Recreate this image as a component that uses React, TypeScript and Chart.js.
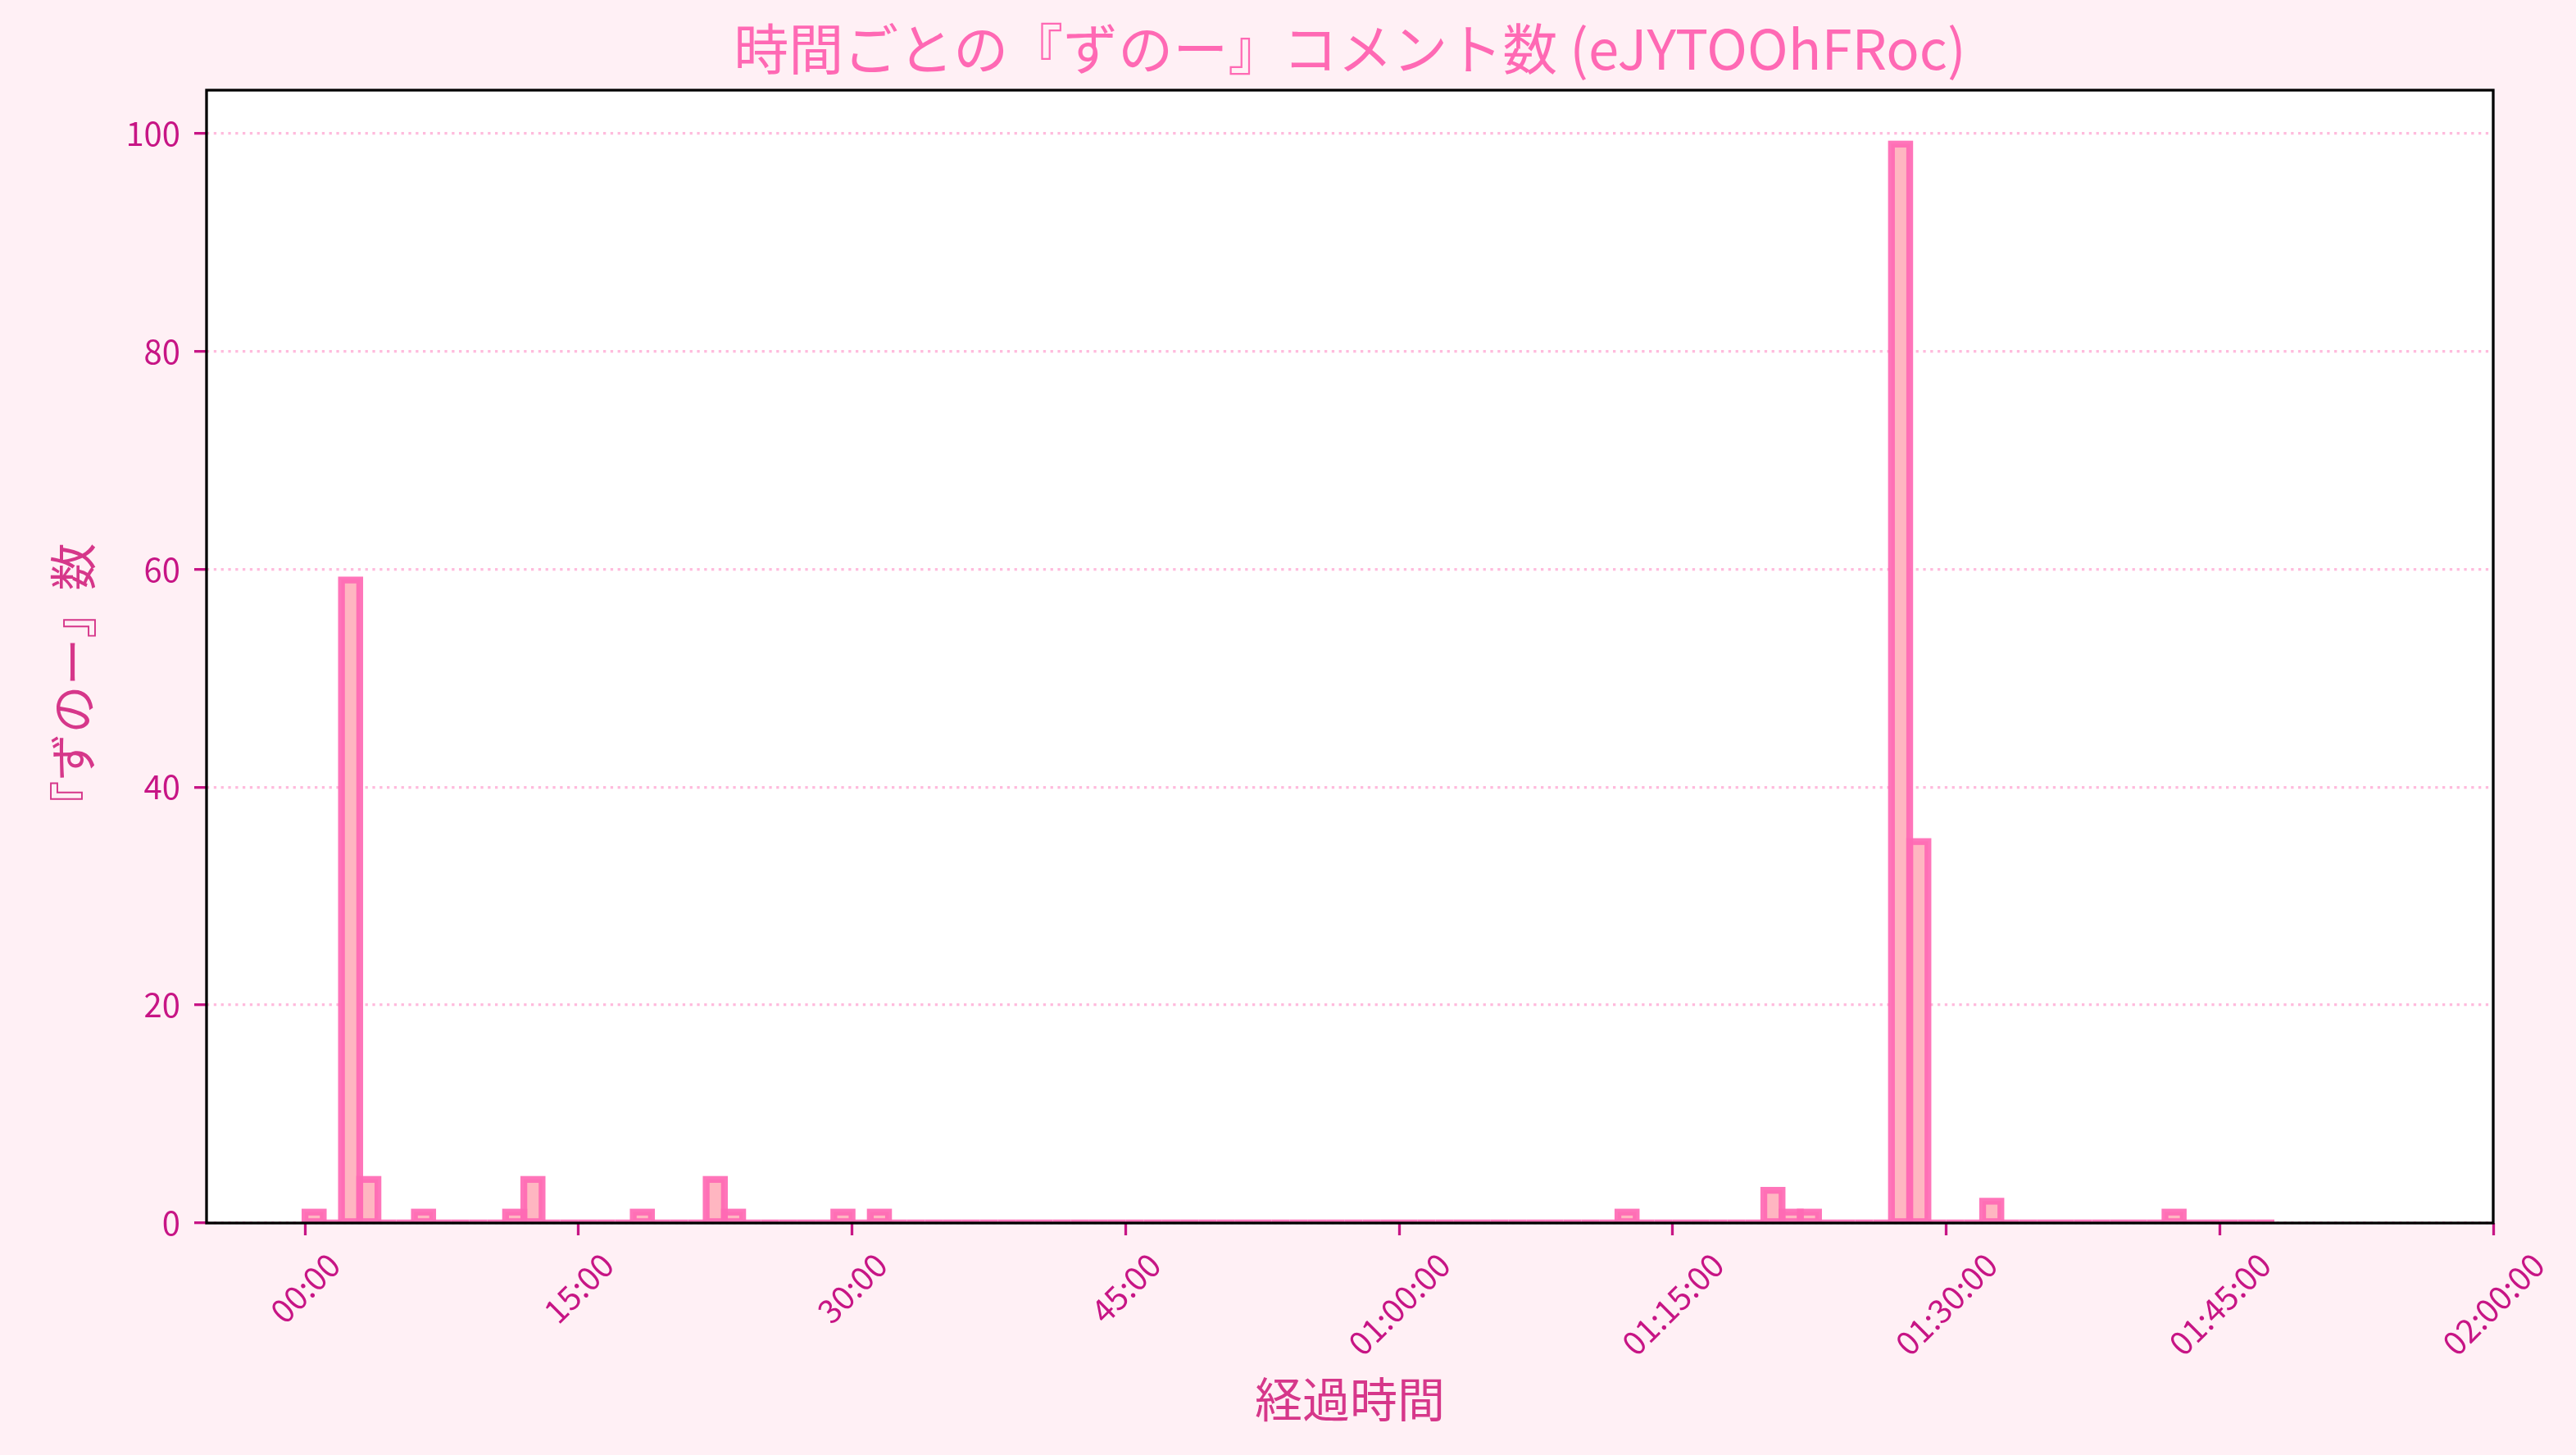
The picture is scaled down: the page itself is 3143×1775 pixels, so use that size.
import { useEffect, useRef } from "react";
import { Chart, registerables } from "chart.js";

Chart.register(...registerables);

// 『ずのー』 comments per 1-minute bin, starting at 00:00
const commentCounts = [
  1, 0, 59, 4, 0, 0, 1, 0, 0, 0, 0, 1,
  4, 0, 0, 0, 0, 0, 1, 0, 0, 0, 4, 1,
  0, 0, 0, 0, 0, 1, 0, 1, 0, 0, 0, 0,
  0, 0, 0, 0, 0, 0, 0, 0, 0, 0, 0, 0,
  0, 0, 0, 0, 0, 0, 0, 0, 0, 0, 0, 0,
  0, 0, 0, 0, 0, 0, 0, 0, 0, 0, 0, 0,
  1, 0, 0, 0, 0, 0, 0, 0, 3, 1, 1, 0,
  0, 0, 0, 99, 35, 0, 0, 0, 2, 0, 0, 0,
  0, 0, 0, 0, 0, 0, 1, 0, 0, 0, 0, 0,
];
const binMinutes = 1;

const xTickMinutes = [0, 15, 30, 45, 60, 75, 90, 105, 120];
const xTickLabels = [
  "00:00",
  "15:00",
  "30:00",
  "45:00",
  "01:00:00",
  "01:15:00",
  "01:30:00",
  "01:45:00",
  "02:00:00",
];
const yTickValues = [0, 20, 40, 60, 80, 100];

const TITLE = "時間ごとの『ずのー』コメント数 (eJYTOOhFRoc)";
const X_TITLE = "経過時間";
const Y_TITLE = "『ずのー』数";

const FONT = '"Noto Sans CJK JP", "Noto Sans", sans-serif';
const WIDTH = 3143;
const HEIGHT = 1775;

const decorPlugin = {
  id: "decor",
  beforeDraw(chart: any) {
    const { ctx, chartArea: a } = chart;
    ctx.save();
    ctx.fillStyle = "#fff0f5";
    ctx.fillRect(0, 0, chart.width, chart.height);
    ctx.fillStyle = "#ffffff";
    ctx.fillRect(a.left, a.top, a.right - a.left, a.bottom - a.top);
    ctx.restore();
  },
  afterDatasetsDraw(chart: any) {
    // matplotlib-style edges: stroke centred on the bar outline, zero bars too
    const { ctx, chartArea: a } = chart;
    const meta = chart.getDatasetMeta(0);
    ctx.save();
    ctx.beginPath();
    ctx.rect(a.left, a.top, a.right - a.left, a.bottom - a.top);
    ctx.clip();
    ctx.lineWidth = 8.3;
    ctx.strokeStyle = "rgba(255,105,180,0.92)";
    ctx.lineJoin = "miter";
    meta.data.forEach((bar: any) => {
      const { x, y, base, width } = bar.getProps(["x", "y", "base", "width"], true);
      ctx.strokeRect(x - width / 2, y, width, base - y);
    });
    ctx.restore();
  },
  afterDraw(chart: any) {
    const { ctx, chartArea: a } = chart;
    const xScale = chart.scales.x;
    ctx.save();

    // spines
    ctx.strokeStyle = "#000000";
    ctx.lineWidth = 3.3;
    ctx.strokeRect(a.left, a.top, a.right - a.left, a.bottom - a.top);

    // x tick labels, rotated 45deg and centred on the tick
    ctx.font = `40px ${FONT}`;
    ctx.fillStyle = "#c71585";
    ctx.textAlign = "center";
    ctx.textBaseline = "middle";
    xTickMinutes.forEach((m, i) => {
      const label = xTickLabels[i];
      const px = xScale.getPixelForValue(m);
      const w = ctx.measureText(label).width;
      const boxH = (w + 40) * Math.SQRT1_2;
      const cy = a.bottom + 15 + 14.6 + boxH / 2;
      ctx.save();
      ctx.translate(px, cy);
      ctx.rotate(-Math.PI / 4);
      ctx.fillText(label, 0, 0);
      ctx.restore();
    });

    // y axis label, ink-centred like matplotlib
    ctx.font = `58px ${FONT}`;
    ctx.fillStyle = "#d6378a";
    ctx.textAlign = "left";
    ctx.textBaseline = "alphabetic";
    const ym = ctx.measureText(Y_TITLE);
    const along = (ym.actualBoundingBoxRight - ym.actualBoundingBoxLeft) / 2;
    const across = (ym.actualBoundingBoxDescent - ym.actualBoundingBoxAscent) / 2;
    ctx.save();
    ctx.translate(89, 820);
    ctx.rotate(-Math.PI / 2);
    ctx.fillText(Y_TITLE, -along, -across);
    ctx.restore();

    // title centred over the axes
    ctx.font = `67px ${FONT}`;
    ctx.fillStyle = "#ff69b4";
    ctx.textAlign = "center";
    ctx.textBaseline = "middle";
    ctx.fillText(TITLE, (a.left + a.right) / 2, 60);
    ctx.restore();
  },
};

function ZunooChart() {
  const chartRef = useRef<HTMLCanvasElement>(null);
  const chartInstance = useRef<Chart | null>(null);

  useEffect(() => {
    if (!chartRef.current) return;
    if (chartInstance.current) chartInstance.current.destroy();
    const ctx = chartRef.current.getContext("2d");
    if (!ctx) return;

    chartInstance.current = new Chart(ctx, {
      type: "bar",
      data: {
        datasets: [
          {
            label: Y_TITLE,
            data: commentCounts.map((c, i) => ({ x: (i + 0.5) * binMinutes, y: c })),
            backgroundColor: "#ffb6c1",
            borderWidth: 0,
            barPercentage: 1,
            categoryPercentage: 1,
          },
        ],
      },
      options: {
        animation: false,
        responsive: false,
        devicePixelRatio: 1,
        events: [],
        layout: { padding: { top: 110, right: 101, bottom: 0, left: 0 } },
        plugins: {
          legend: { display: false },
          title: { display: false },
          tooltip: { enabled: false },
        },
        scales: {
          x: {
            type: "linear",
            min: -5.4,
            max: 120,
            offset: false,
            afterBuildTicks: (s: any) => {
              s.ticks = xTickMinutes.map((v) => ({ value: v }));
            },
            afterFit: (s: any) => {
              s.height = 283;
            },
            ticks: { display: false },
            grid: {
              offset: false,
              drawOnChartArea: false,
              drawTicks: true,
              tickLength: 15,
              tickWidth: 3.3,
              tickColor: "#c71585",
            },
            border: { display: false },
            title: {
              display: true,
              text: X_TITLE,
              color: "#d6378a",
              font: { family: FONT, size: 58 },
              padding: { top: 0, bottom: 33 },
            },
          },
          y: {
            min: 0,
            max: 103.95,
            z: 1,
            afterBuildTicks: (s: any) => {
              s.ticks = yTickValues.map((v) => ({ value: v }));
            },
            afterFit: (s: any) => {
              s.width = 252;
            },
            ticks: {
              color: "#c71585",
              font: { family: FONT, size: 40 },
              padding: 17,
              callback: (v: any) => String(v),
            },
            grid: {
              color: "rgba(255,105,180,0.45)",
              lineWidth: 3.3,
              borderDash: [3.3, 5.5],
              tickLength: 15,
              tickWidth: 3.3,
              tickColor: "#c71585",
            } as any,
            border: { display: false, dash: [3.3, 5.5] },
            title: { display: false },
          },
        },
      },
      plugins: [decorPlugin],
    });

    return () => {
      if (chartInstance.current) {
        chartInstance.current.destroy();
        chartInstance.current = null;
      }
    };
  }, []);

  return (
    <canvas
      ref={chartRef}
      width={WIDTH}
      height={HEIGHT}
      style={{ display: "block", width: WIDTH, height: HEIGHT }}
    />
  );
}

export default function App() {
  useEffect(() => {
    document.body.style.margin = "0";
    document.body.style.background = "#fff0f5";
  }, []);
  return <ZunooChart />;
}
